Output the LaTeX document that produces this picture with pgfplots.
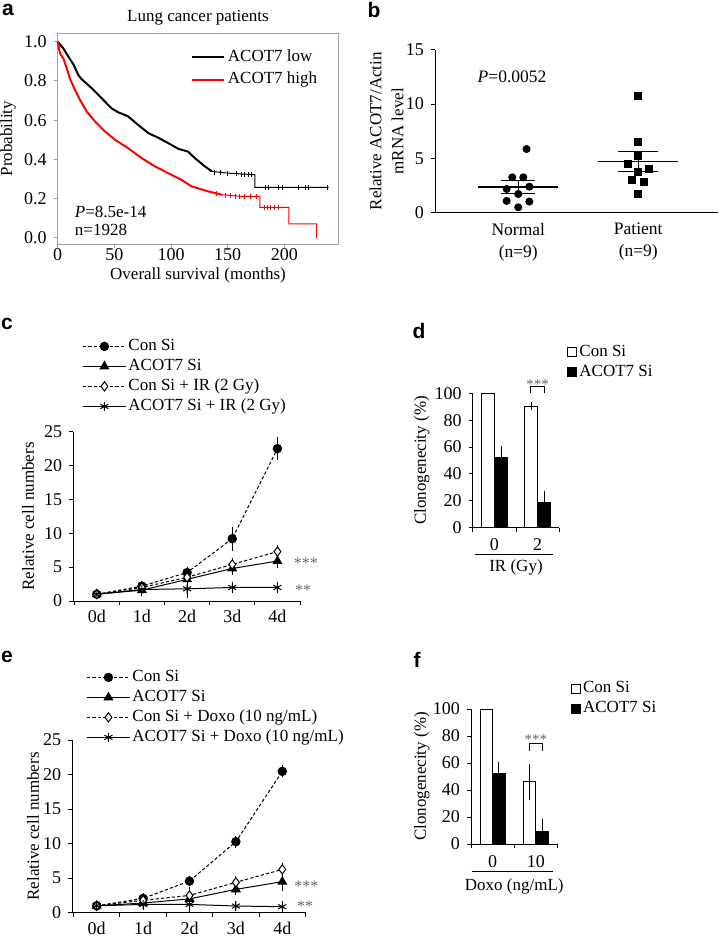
\documentclass[border=0pt]{standalone}
\usepackage{fontspec}
\setmainfont{Liberation Serif}
\newfontfamily\panelfont{Liberation Sans}
\usepackage{pgfplots}
\pgfplotsset{compat=1.18}
\newcommand\fl{\fontsize{8.5}{10}\selectfont}
\newcommand\ftk{\fontsize{9}{10}\selectfont}
\newcommand\fst{\fontsize{7.5}{9}\selectfont}
\newcommand\fpan{\fontsize{10.5}{12}\panelfont\bfseries}
\pgfplotsset{
  base/.style={
    scale only axis, anchor=south west, clip=false,
    /pgf/number format/assume math mode=true,
    tick label style={font=\ftk},
    tick align=outside, major tick length=2pt, minor tick length=2pt,
    tick style={black, line width=0.5pt},
    axis line style={line width=0.5pt},
    legend cell align=left,
  },
  ylab/.style={every axis y label/.style={at={(axis description cs:#1,0.5)}, rotate=90, anchor=center, font=\fl}},
  xlab/.style={every axis x label/.style={at={(axis description cs:0.5,#1)}, anchor=center, font=\fl}},
  dsh/.style={dash pattern=on 1.6pt off 1.1pt},
  eb/.style={error bars/y dir=both, error bars/y explicit,
    error bars/error bar style={solid, line width=0.5pt},
    error bars/error mark options={solid, mark size=2pt, line width=0.5pt}},
  ebup/.style={error bars/y dir=plus, error bars/y explicit,
    error bars/error bar style={solid, line width=0.5pt},
    error bars/error mark options={solid, mark size=2pt, line width=0.5pt}},
  sqleg/.style={legend image code/.code={\draw[##1, line width=0.5pt] (0pt,-2.25pt) rectangle (4.5pt,2.25pt);}},
  lineleg/.style={legend image code/.code={\draw[mark repeat=2,mark phase=2,##1] plot coordinates {(0pt,0pt) (10.75pt,0pt) (21.5pt,0pt)};}},
}
\begin{document}
\begin{tikzpicture}
\path[use as bounding box] (0pt,-468pt) rectangle (360pt,0pt);

% ---------------- panel a ----------------
\begin{axis}[base, at={(28.85pt,-122pt)}, width=140.3pt, height=105.35pt,
  xmin=0, xmax=247.6, ymin=-0.031, ymax=1.043,
  xtick={0,50,100,150,200}, ytick={0,0.2,0.4,0.6,0.8,1.0},
  yticklabel style={/pgf/number format/fixed, /pgf/number format/fixed zerofill, /pgf/number format/precision=1},
  xticklabel style={yshift=3.2pt},
  tick pos=left, axis line style={gray!75}, tick style={gray!75},
  ylab=-0.177, xlab=-0.148, ylabel={Probability}, xlabel={Overall survival (months)},
  title={Lung cancer patients},
  every axis title/.style={at={(axis description cs:0.5,1.073)}, anchor=center, font=\fl},
  legend style={draw=none, fill=none, at={(0.454,0.959)}, anchor=north west, font=\fl,
    nodes={inner sep=1.2pt, text height=6.5pt, text depth=2.2pt}},
  legend image code/.code={\draw[#1] (0pt,0pt) -- (16pt,0pt);},
]
\addplot[black, line width=1pt] coordinates {(0,1.0)(5,0.966)(9.4,0.924)(13.8,0.885)(18.2,0.83)(21,0.81)(30,0.763)(38.8,0.712)(47.6,0.66)(53.5,0.64)(62,0.62)(71,0.576)(80,0.534)(89,0.51)(97.6,0.483)(106.5,0.454)(115,0.44)(121,0.407)(130,0.364)(136,0.339)};
\addlegendentry{ACOT7 low}
\addplot[red, line width=1pt] coordinates {(0,1.0)(2,0.94)(5,0.915)(8,0.864)(10.9,0.81)(15.3,0.754)(19.7,0.703)(25.6,0.644)(33,0.593)(41.8,0.542)(50.6,0.5)(62,0.458)(74,0.407)(86,0.364)(97.6,0.33)(109,0.297)(118,0.263)(133,0.237)(145,0.22)};
\addlegendentry{ACOT7 high}
\addplot[black, line width=0.5pt, forget plot] coordinates {(136,0.339)(150.6,0.33)(174,0.322)(174,0.258)(239,0.258)};
\addplot[red, line width=0.5pt, forget plot] coordinates {(145,0.22)(162,0.212)(178.5,0.212)(178.5,0.156)(204,0.156)(204,0.071)(228.5,0.071)(228.5,0)};
\addplot[black, only marks, mark=|, mark size=1.3pt, line width=0.4pt, forget plot] coordinates {(138,0.335)(144,0.332)(150,0.33)(158,0.327)(162,0.325)(165,0.324)(168,0.323)(171,0.322)(183,0.258)(186,0.258)(195,0.258)(198,0.258)(212,0.258)(219,0.258)(221,0.258)(238,0.258)};
\addplot[red, only marks, mark=|, mark size=1.3pt, line width=0.4pt, forget plot] coordinates {(140,0.225)(148,0.218)(152,0.215)(157,0.213)(160,0.212)(165,0.212)(170,0.212)(175,0.212)(182,0.156)(185,0.156)(188,0.156)(191,0.156)(195,0.156)};
\node[font=\fl, anchor=west] at (axis cs:9,0.134) {\textit{P}=8.5e-14};
\node[font=\fl, anchor=west] at (axis cs:9,0.041) {n=1928};
\end{axis}

% ---------------- panel b ----------------
\begin{axis}[base, at={(217.5pt,-106.15pt)}, width=141.65pt, height=81.15pt,
  xmin=0.306, xmax=2.667, ymin=0, ymax=15,
  axis x line*=bottom, axis y line*=left,
  ytick={0,5,10,15}, xtick={1,2}, xticklabels={{Normal\\(n=9)},{Patient\\(n=9)}},
  xticklabel style={align=center, font=\fontsize{8.75}{11}\selectfont},
  xtick style={draw=none},
  ylab=-0.171, ylabel={Relative ACOT7/Actin\\mRNA level},
  ylabel style={align=center, font=\fontsize{8.5}{11}\selectfont},
]
\addplot[only marks, black, mark=*, mark size=1.8pt] coordinates {(1.069,5.85)(0.95,3.23)(1.042,3.23)(1.092,2.37)(0.903,2.16)(1,1.69)(0.903,1.05)(1.092,0.99)(1,0.46)};
\addplot[only marks, black, mark=square*, mark size=1.75pt] coordinates {(2,10.75)(2,6.53)(2,5.24)(1.911,4.43)(2.092,4.03)(2,3.76)(1.95,2.96)(2.047,2.77)(2,1.69)};
\addplot[black, line width=0.75pt] coordinates {(0.667,2.34)(1.333,2.34)};
\addplot[black, line width=0.75pt] coordinates {(0.86,2.93)(1.14,2.93)};
\addplot[black, line width=0.75pt] coordinates {(0.86,1.76)(1.14,1.76)};
\addplot[black, line width=0.75pt] coordinates {(1,1.76)(1,2.93)};
\addplot[black, line width=0.75pt] coordinates {(1.667,4.68)(2.333,4.68)};
\addplot[black, line width=0.75pt] coordinates {(1.833,5.6)(2.167,5.6)};
\addplot[black, line width=0.75pt] coordinates {(1.833,3.76)(2.167,3.76)};
\addplot[black, line width=0.75pt] coordinates {(2,3.76)(2,5.6)};
\node[font=\fontsize{8.75}{10}\selectfont] at (axis cs:0.948,12.53) {\textit{P}=0.0052};
\end{axis}

% ---------------- panel c ----------------
\begin{axis}[base, at={(36.65pt,-300.5pt)}, width=113.35pt, height=84.65pt,
  xmin=-0.52, xmax=4.5, ymin=0, ymax=25,
  axis x line*=bottom, axis y line*=left,
  ytick={0,5,10,15,20,25}, xtick={0,1,2,3,4}, xticklabels={0d,1d,2d,3d,4d},
  xticklabel style={yshift=1pt},
  major x tick style={draw=none}, minor xtick={-0.5,0.5,1.5,2.5,3.5,4.5},
  ylab=-0.2, ylabel={Relative cell numbers},
  legend style={draw=none, fill=none, at={(0.012,1.589)}, anchor=north west, font=\fl,
    nodes={inner sep=1pt, text height=6pt, text depth=2pt}},
  lineleg,
]
\addplot[black, line width=0.5pt, dsh, mark=*, mark size=2.1pt, mark options={solid}, eb] coordinates {(0,1.0) +- (0,0.1) (1,2.2) +- (0,0.2) (2,4.2) +- (0,0.3) (3,9.2) +- (0,1.2) (4,22.5) +- (0,1.1)};
\addlegendentry{Con Si}
\addplot[black, line width=0.5pt, mark=triangle*, mark size=2.4pt, mark options={solid}, eb] coordinates {(0,1.0) +- (0,0.1) (1,1.6) +- (0,0.2) (2,3.2) +- (0,0.3) (3,4.8) +- (0,0.3) (4,5.9) +- (0,0.5)};
\addlegendentry{ACOT7 Si}
\addplot[black, line width=0.5pt, dsh, mark=diamond*, mark size=2.3pt, mark options={solid, fill=white}, eb] coordinates {(0,1.0) +- (0,0.1) (1,2.0) +- (0,0.2) (2,3.5) +- (0,0.3) (3,5.4) +- (0,0.4) (4,7.3) +- (0,0.4)};
\addlegendentry{Con Si + IR (2 Gy)}
\addplot[black, line width=0.5pt, mark=asterisk, mark size=2.3pt, mark options={solid}, eb] coordinates {(0,1.0) +- (0,0.1) (1,1.7) +- (0,0.2) (2,1.8) +- (0,0.8) (3,2.0) +- (0,0.2) (4,2.0) +- (0,0.2)};
\addlegendentry{ACOT7 Si + IR (2 Gy)}
\node[font=\fontsize{8}{9}\selectfont, text=black!60, anchor=base] at (axis cs:4.63,4.87) {***};
\node[font=\fontsize{8}{9}\selectfont, text=black!60, anchor=base] at (axis cs:4.57,0.74) {**};
\end{axis}

% ---------------- panel d ----------------
\begin{axis}[base, at={(236.35pt,-263.85pt)}, width=43.3pt, height=67.2pt,
  xmin=-0.5, xmax=1.5, ymin=0, ymax=100,
  axis x line*=bottom, axis y line*=left,
  ytick={0,20,40,60,80,100}, xtick={0,1}, xticklabels={0,2},
  major x tick style={draw=none}, minor xtick={-0.5,0.5,1.5},
  ylab=-0.589, ylabel={Clonogenecity (\%)},
  xlab=-0.292, xlabel={IR (Gy)},
  legend style={draw=none, fill=none, at={(1.02,1.411)}, anchor=north west, font=\fl,
    nodes={inner sep=1pt, text height=6pt, text depth=2pt}},
]
\addplot[ybar, bar width=6.65pt, bar shift=0pt, fill=white, draw=black, line width=0.5pt, sqleg] coordinates {(-0.1535,100)};
\addlegendentry{Con Si}
\addplot[ybar, bar width=6.65pt, bar shift=0pt, fill=black, draw=black, line width=0.5pt, ebup, sqleg] coordinates {(0.1535,52.4) +- (0,5.4) (1.1535,18.6) +- (0,5.7)};
\addlegendentry{ACOT7 Si}
\addplot[ybar, bar width=6.65pt, bar shift=0pt, fill=white, draw=black, line width=0.5pt, ebup, forget plot] coordinates {(0.8465,90.1) +- (0,0.6)};
\draw[line width=0.5pt] (axis cs:0.846,100.4) -- (axis cs:0.846,104.7) -- (axis cs:1.154,104.7) -- (axis cs:1.154,100.4);
\node[font=\fst, text=black!60, anchor=base] at (axis cs:1.0,103.2) {***};
\draw[line width=0.5pt] (axis description cs:0.027,-0.203) -- (axis description cs:0.927,-0.203);
\end{axis}

% ---------------- panel e ----------------
\begin{axis}[base, at={(36.05pt,-456.35pt)}, width=116.7pt, height=86.35pt,
  xmin=-0.53, xmax=4.5, ymin=0, ymax=25,
  axis x line*=bottom, axis y line*=left,
  ytick={0,5,10,15,20,25}, xtick={0,1,2,3,4}, xticklabels={0d,1d,2d,3d,4d},
  xticklabel style={yshift=1pt},
  major x tick style={draw=none}, minor xtick={-0.5,0.5,1.5,2.5,3.5,4.5},
  ylab=-0.1675, ylabel={Relative cell numbers},
  legend style={draw=none, fill=none, at={(0.034,1.446)}, anchor=north west, font=\fl,
    nodes={inner sep=1pt, text height=6pt, text depth=2pt}},
  lineleg,
]
\addplot[black, line width=0.5pt, dsh, mark=*, mark size=2.1pt, mark options={solid}, eb] coordinates {(0,1.0) +- (0,0.1) (1,2.07) +- (0,0.2) (2,4.58) +- (0,0.2) (3,10.28) +- (0,0.3) (4,20.46) +- (0,0.3)};
\addlegendentry{Con Si}
\addplot[black, line width=0.5pt, mark=triangle*, mark size=2.4pt, mark options={solid}, eb] coordinates {(0,1.0) +- (0,0.1) (1,1.4) +- (0,0.1) (2,2.0) +- (0,0.3) (3,3.38) +- (0,0.3) (4,4.49) +- (0,0.8)};
\addlegendentry{ACOT7 Si}
\addplot[black, line width=0.5pt, dsh, mark=diamond*, mark size=2.3pt, mark options={solid, fill=white}, eb] coordinates {(0,1.0) +- (0,0.1) (1,1.8) +- (0,0.2) (2,2.5) +- (0,0.7) (3,4.4) +- (0,0.4) (4,6.27) +- (0,0.4)};
\addlegendentry{Con Si + Doxo (10 ng/mL)}
\addplot[black, line width=0.5pt, mark=asterisk, mark size=2.3pt, mark options={solid}, eb] coordinates {(0,1.0) +- (0,0.1) (1,1.2) +- (0,0.2) (2,1.2) +- (0,0.6) (3,0.97) +- (0,0.2) (4,0.87) +- (0,0.3)};
\addlegendentry{ACOT7 Si + Doxo (10 ng/mL)}
\node[font=\fontsize{8}{9}\selectfont, text=black!60, anchor=base] at (axis cs:4.52,3.0) {***};
\node[font=\fontsize{8}{9}\selectfont, text=black!60, anchor=base] at (axis cs:4.49,0.17) {**};
\end{axis}

% ---------------- panel f ----------------
\begin{axis}[base, at={(235.5pt,-422pt)}, width=43.3pt, height=67.5pt,
  xmin=-0.5, xmax=1.5, ymin=0, ymax=100,
  axis x line*=bottom, axis y line*=left,
  ytick={0,20,40,60,80,100}, xtick={0,1}, xticklabels={0,10},
  major x tick style={draw=none}, minor xtick={-0.5,0.5,1.5},
  ylab=-0.569, ylabel={Clonogenecity (\%)},
  xlab=-0.316, xlabel={Doxo (ng/mL)},
  legend style={draw=none, fill=none, at={(1.082,1.257)}, anchor=north west, font=\fl,
    nodes={inner sep=1pt, text height=6pt, text depth=2pt}},
]
\addplot[ybar, bar width=6.2pt, bar shift=0pt, fill=white, draw=black, line width=0.5pt, sqleg] coordinates {(-0.143,100)};
\addlegendentry{Con Si}
\addplot[ybar, bar width=6.2pt, bar shift=0pt, fill=black, draw=black, line width=0.5pt, ebup, sqleg] coordinates {(0.143,52.5) +- (0,5) (1.143,9.5) +- (0,6)};
\addlegendentry{ACOT7 Si}
\addplot[ybar, bar width=6.2pt, bar shift=0pt, fill=white, draw=black, line width=0.5pt, eb, forget plot] coordinates {(0.857,46) +- (0,10.5)};
\draw[line width=0.5pt] (axis cs:0.857,68.9) -- (axis cs:0.857,74.6) -- (axis cs:1.143,74.6) -- (axis cs:1.143,68.9);
\node[font=\fst, text=black!60, anchor=base] at (axis cs:1.0,74.0) {***};
\draw[line width=0.5pt] (axis description cs:0.008,-0.205) -- (axis description cs:0.95,-0.205);
\end{axis}

% panel letters
\node[font=\fpan] at (4pt,-5pt) {a};
\node[font=\fpan] at (187pt,-5pt) {b};
\node[font=\fpan] at (3.5pt,-162pt) {c};
\node[font=\fpan] at (209.5pt,-165.5pt) {d};
\node[font=\fpan] at (3.5pt,-328.5pt) {e};
\node[font=\fpan] at (208.5pt,-330pt) {f};
\end{tikzpicture}
\end{document}
